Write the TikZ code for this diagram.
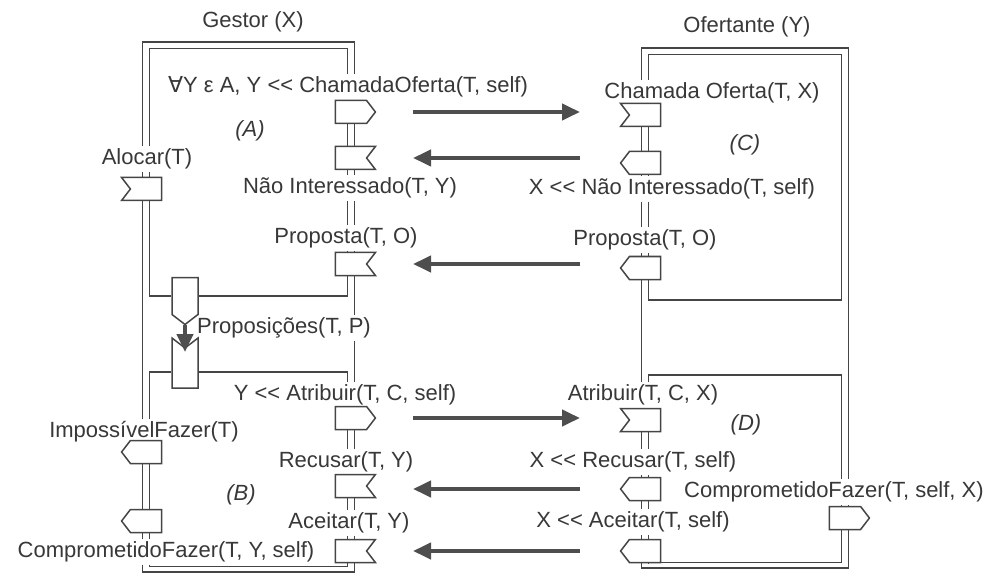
\documentclass[tikz,border=0pt]{standalone}
\usepackage{fontspec}
\setmainfont{Liberation Sans}[Ligatures=TeXOff]
\newfontfamily\symfam{DejaVu Sans}
\usetikzlibrary{shapes.symbols,arrows.meta}
\definecolor{ink}{HTML}{454545}
\definecolor{txt}{HTML}{383838}
\definecolor{msgc}{HTML}{4E4E4E}
\pgfdeclarelayer{wires}
\pgfdeclarelayer{labels}
\pgfsetlayers{wires,labels,main}
% two parallel wires between the bottom of one symbol and the top of the next
\newcommand\dlink[2]{%
  \draw[wire] ([xshift=-3.5pt]#1.south) -- ([xshift=-3.5pt]#2.north);
  \draw[wire] ([xshift=3.5pt]#1.south) -- ([xshift=3.5pt]#2.north);}
\begin{document}
\begin{tikzpicture}[x=1pt,y=-1pt,
  font=\fontsize{22}{26}\selectfont, text=txt,
  sig/.style={signal, draw=ink, line width=1.5pt, fill=white, minimum width=40pt,
    minimum height=23pt, inner sep=0pt, signal pointer angle=105},
  sendR/.style={sig, signal to=east},
  sendL/.style={sig, signal to=west},
  recvR/.style={sig, signal to=nowhere, signal from=east},
  recvL/.style={sig, signal to=nowhere, signal from=west},
  merge/.style={sig, signal to=south, minimum width=26pt, minimum height=37pt},
  split/.style={sig, signal to=nowhere, signal from=north, minimum width=26pt, minimum height=40pt},
  wire/.style={draw=ink, line width=1.4pt},
  msg/.style={draw=msgc, line width=4pt, -{Triangle[length=18pt,width=16pt]}},
  lbl/.style={fill=white, inner xsep=1pt, inner ysep=3pt, text height=15.5pt, text depth=4.5pt},
  tag/.style={font=\fontsize{22}{26}\selectfont\itshape}
]
\useasboundingbox (0,0) rectangle (988,580);

% ---- Gestor (X): signal symbols
\node[recvL] (aloc) at (146,189) {};
\node[sendL] (imp)  at (146,452) {};
\node[sendL] (cfG)  at (146,521) {};
\node[merge] (mg)   at (185,296) {};
\node[split] (sp)   at (185,368) {};
\node[sendR] (coG)  at (351,112) {};
\node[recvR] (niG)  at (351,158) {};
\node[recvR] (prG)  at (351,264) {};
\node[sendR] (atG)  at (351,418) {};
\node[recvR] (reG)  at (351,486) {};
\node[recvR] (acG)  at (351,551) {};

% ---- Ofertante (Y): signal symbols
\node[recvL] (coY) at (645,115) {};
\node[sendL] (niY) at (645,163) {};
\node[sendL] (prY) at (645,268) {};
\node[recvL] (atY) at (645,420) {};
\node[sendL] (reY) at (645,489) {};
\node[sendL] (acY) at (645,551) {};
\node[sendR] (cfY) at (845,518) {};

% ---- corner points of the process frames
\coordinate (gTop)   at (250,42);
\coordinate (gTopIn) at (250,48.5);
\coordinate (gBot)   at (250,572);
\coordinate (gBotIn) at (250,566.5);
\coordinate (yTop)   at (750,48);
\coordinate (yTopIn) at (750,54.5);
\coordinate (cIn)    at (841.5,300);
\coordinate (dTop)   at (750,375);
\coordinate (yBot)   at (750,568);
\coordinate (yBotIn) at (750,562.5);

\begin{pgfonlayer}{wires}
% ---- Gestor wiring
\draw[wire] ([xshift=3.5pt]coG.north) |- (gTop) -| ([xshift=-3.5pt]aloc.north);
\draw[wire] ([xshift=-3.5pt]coG.north) |- (gTopIn) -| ([xshift=3.5pt]aloc.north);
\draw[wire] ([xshift=-3.5pt]aloc.south) -- ([xshift=-3.5pt]imp.north);
\draw[wire] ([xshift=3.5pt]aloc.south) |- (mg.west);
\draw[wire] ([xshift=-3.5pt]prG.south) |- (mg.east);
\draw[wire] ([xshift=3.5pt]prG.south) -- ([xshift=3.5pt]atG.north);
\draw[wire] ([yshift=-4pt]sp.west) -| ([xshift=3.5pt]imp.north);
\draw[wire] ([yshift=-4pt]sp.east) -| ([xshift=-3.5pt]atG.north);
\dlink{coG}{niG}
\dlink{niG}{prG}
\dlink{atG}{reG}
\dlink{reG}{acG}
\dlink{imp}{cfG}
\draw[wire] ([xshift=-3.5pt]cfG.south) |- (gBot) -| ([xshift=3.5pt]acG.south);
\draw[wire] ([xshift=3.5pt]cfG.south) |- (gBotIn) -| ([xshift=-3.5pt]acG.south);

% ---- Ofertante wiring
\draw[wire] ([xshift=-3.5pt]coY.north) |- (yTop) -| ([xshift=3.5pt]cfY.north);
\draw[wire] ([xshift=3.5pt]coY.north) |- (yTopIn) -| (cIn) -| ([xshift=3.5pt]prY.south);
\draw[wire] ([xshift=-3.5pt]prY.south) -- ([xshift=-3.5pt]atY.north);
\draw[wire] ([xshift=3.5pt]atY.north) |- (dTop) -| ([xshift=-3.5pt]cfY.north);
\dlink{coY}{niY}
\dlink{niY}{prY}
\dlink{atY}{reY}
\dlink{reY}{acY}
\draw[wire] ([xshift=3.5pt]cfY.south) |- (yBot) -| ([xshift=-3.5pt]acY.south);
\draw[wire] ([xshift=-3.5pt]cfY.south) |- (yBotIn) -| ([xshift=3.5pt]acY.south);
\end{pgfonlayer}

% ---- proposals gathered into the allocation decision
\draw[msg] (mg.south) -- ([yshift=16pt]sp.center);

% ---- messages between the two processes
\draw[msg] ([xshift=62pt]coG.center) -- ([xshift=-65pt]coY.center |- coG.center);
\draw[msg] ([xshift=-65pt]niY.center |- niG.center) -- ([xshift=62pt]niG.center);
\draw[msg] ([xshift=-65pt]prY.center |- prG.center) -- ([xshift=62pt]prG.center);
\draw[msg] ([xshift=62pt]atG.center) -- ([xshift=-65pt]atY.center |- atG.center);
\draw[msg] ([xshift=-65pt]reY.center |- reY.center) -- ([xshift=62pt]reG.center |- reY.center);
\draw[msg] ([xshift=-65pt]acY.center |- acG.center) -- ([xshift=62pt]acG.center);

% ---- titles and region tags
\node (tG) at (253,22) {Gestor (X)};
\node (tY) at (747,27) {Ofertante (Y)};
\node[tag] (tagA) at (250,131) {(A)};
\node[tag] (tagB) at (241,495) {(B)};
\node[tag] (tagC) at (745,145) {(C)};
\node[tag] (tagD) at (746,425) {(D)};

\begin{pgfonlayer}{labels}
% ---- signal labels
\node[lbl] (lAll)  at (348,87)  {{\symfam ∀}Y ε A, Y << ChamadaOferta(T, self)};
\node[lbl] (lAloc) at (147,159) {Alocar(T)};
\node[lbl] (lNiG)  at (350,188) {Não Interessado(T, Y)};
\node[lbl] (lPrG)  at (346,238) {Proposta(T, O)};
\node[lbl] (lProp) at (284,328) {Proposições(T, P)};
\node[lbl] (lAtG)  at (345,395) {Y << Atribuir(T, C, self)};
\node[lbl] (lImp)  at (144,432) {ImpossívelFazer(T)};
\node[lbl] (lReG)  at (346,462) {Recusar(T, Y)};
\node[lbl] (lAcG)  at (349,523) {Aceitar(T, Y)};
\node[lbl] (lCfG)  at (166,552) {ComprometidoFazer(T, Y, self)};

\node[lbl] (lCoY)  at (712,93)  {Chamada Oferta(T, X)};
\node[lbl] (lNiY)  at (672,189) {X << Não Interessado(T, self)};
\node[lbl] (lPrY)  at (645,240) {Proposta(T, O)};
\node[lbl] (lAtY)  at (643,395) {Atribuir(T, C, X)};
\node[lbl] (lReY)  at (633,462) {X << Recusar(T, self)};
\node[lbl] (lCfY)  at (834,492) {ComprometidoFazer(T, self, X)};
\node[lbl] (lAcY)  at (633,522) {X << Aceitar(T, self)};
\end{pgfonlayer}
\end{tikzpicture}
\end{document}
